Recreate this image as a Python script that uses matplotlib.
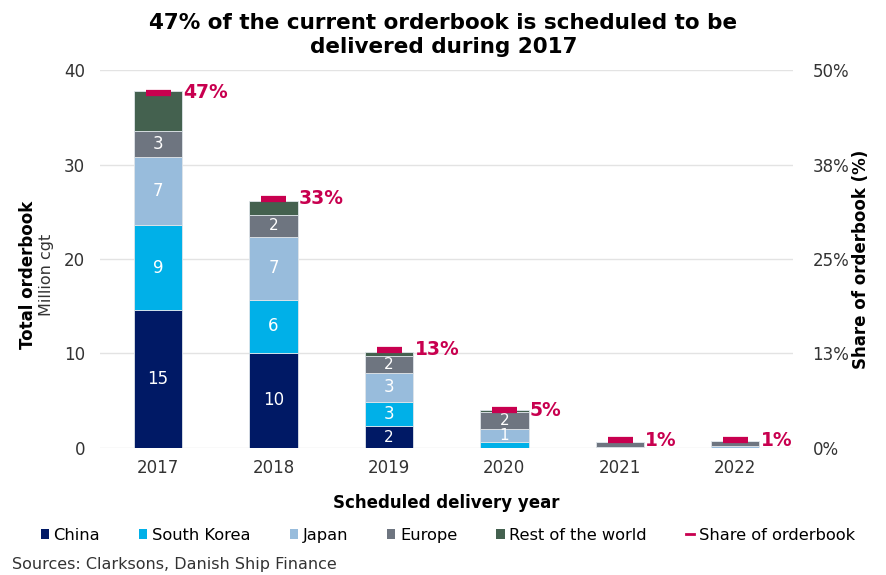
import matplotlib.pyplot as plt
from matplotlib.lines import Line2D
from matplotlib.patches import Patch
import numpy as np

years = ['2017', '2018', '2019', '2020', '2021', '2022']
china = [14.6, 10.1, 2.3, 0.0, 0.0, 0.0]
south_korea = [9.0, 5.6, 2.6, 0.6, 0.0, 0.0]
japan = [7.2, 6.6, 3.0, 1.4, 0.05, 0.25]
europe = [2.8, 2.4, 1.8, 1.85, 0.6, 0.5]
rest_of_world = [4.2, 1.4, 0.5, 0.15, 0.0, 0.0]
share = [47, 33, 13, 5, 1, 1]

series = [('China', china, '#001965'),
          ('South Korea', south_korea, '#00B0E8'),
          ('Japan', japan, '#98BCDC'),
          ('Europe', europe, '#6E7580'),
          ('Rest of the world', rest_of_world, '#44614F')]
share_color = '#C8004F'
text_color = '#333333'

plt.rcParams['font.family'] = 'DejaVu Sans'

fig = plt.figure(figsize=(8.87, 5.75), dpi=100)
ax = fig.add_axes([0.113, 0.221, 0.781, 0.657])
ax2 = ax.twinx()

x = np.arange(len(years))
width = 0.42
bottom = np.zeros(len(years))
for name, vals, color in series:
    vals = np.array(vals)
    ax.bar(x, vals, width, bottom=bottom, color=color, edgecolor='#dfe5ea',
           linewidth=0.6, zorder=3)
    if name != 'Rest of the world':
        for xi, v, b in zip(x, vals, bottom):
            if v >= 1:
                # small segments get a slightly smaller label
                fs = 12 if v >= 2.5 else 11
                ax.text(xi, b + v / 2, f'{v:.0f}', ha='center', va='center',
                        color='white', fontsize=fs, zorder=4)
    bottom += vals

ax2.plot(x, share, linestyle='none', marker='_', markersize=18, mew=4.5,
         color=share_color, zorder=5)
for xi, s in zip(x, share):
    ax2.annotate(f'{s}%', (xi + width / 2, s), xytext=(1, 0),
                 textcoords='offset points', ha='left', va='center',
                 color=share_color, fontsize=13.5, fontweight='bold')

ax.set_xlim(-0.5, len(years) - 0.5)
ax.set_ylim(0, 40)
ax.set_yticks([0, 10, 20, 30, 40])
ax2.set_ylim(0, 50)
ax2.set_yticks([0, 12.5, 25, 37.5, 50])
ax2.set_yticklabels(['0%', '13%', '25%', '38%', '50%'])
ax.set_xticks(x)
ax.set_xticklabels(years)

ax.grid(axis='y', color='#e3e3e3', linewidth=1, zorder=0)
for a in (ax, ax2):
    for sp in a.spines.values():
        sp.set_visible(False)
    a.tick_params(length=0, labelsize=12, labelcolor=text_color)
ax.tick_params(axis='y', pad=11)
ax.tick_params(axis='x', pad=8)
ax2.tick_params(axis='y', pad=14)

ax.set_xlabel('Scheduled delivery year', fontsize=12, fontweight='bold',
              labelpad=12)
fig.text(0.032, 0.522, 'Total orderbook', rotation=90, ha='center', va='center',
         fontsize=12, fontweight='bold')
fig.text(0.052, 0.522, 'Million cgt', rotation=90, ha='center', va='center',
         fontsize=11.5, color=text_color)
ax2.set_ylabel('Share of orderbook (%)', fontsize=12, fontweight='bold',
               labelpad=2)

fig.suptitle('47% of the current orderbook is scheduled to be\ndelivered during 2017',
             x=0.5, y=0.978, fontsize=15.5, fontweight='bold', linespacing=1.3)

handles = [Patch(facecolor=c, label=n) for n, _, c in series]
handles.append(Line2D([0], [0], color=share_color, lw=2,
                      label='Share of orderbook'))
fig.legend(handles=handles, loc='center', bbox_to_anchor=(0.505, 0.069),
           ncol=6, frameon=False, fontsize=11.7, handlelength=0.5,
           handleheight=0.6, handletextpad=0.3, columnspacing=2.4)

fig.text(0.013, 0.005, 'Sources: Clarksons, Danish Ship Finance', fontsize=11.5,
         color=text_color, va='bottom')

fig.savefig('out.png', dpi=100)
